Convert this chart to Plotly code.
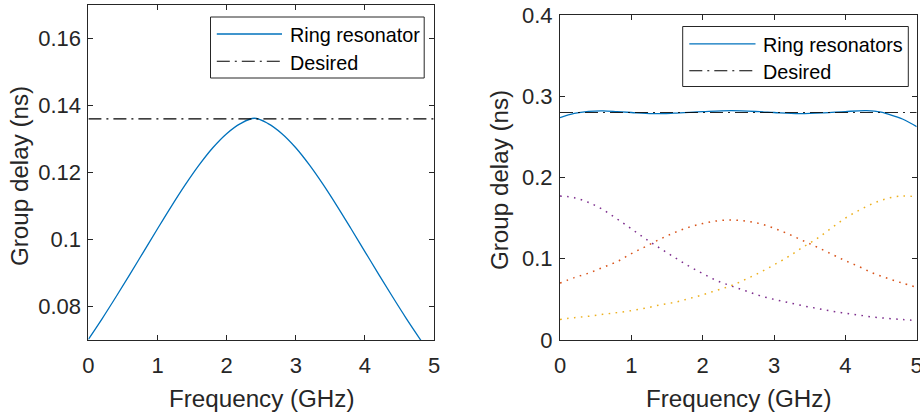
import plotly.graph_objects as go

# ---------------- data ----------------
# Left panel: single ring resonator group delay (ns) vs frequency (GHz)
freq_single = [0.0, 0.2, 0.4, 0.6, 0.8, 1.0, 1.2, 1.4, 1.6, 1.8, 2.0, 2.2, 2.4,
               2.6, 2.8, 3.0, 3.2, 3.4, 3.6, 3.8, 4.0, 4.2, 4.4, 4.6, 4.8, 5.0]
delay_single = [0.0702, 0.0764, 0.0829, 0.0896, 0.0964, 0.1032, 0.1099, 0.1163,
                0.1222, 0.1274, 0.1316, 0.1346, 0.1362, 0.1346, 0.1316, 0.1274,
                0.1222, 0.1163, 0.1099, 0.1032, 0.0964, 0.0896, 0.0829, 0.0764,
                0.0702, 0.0640]
desired_single = 0.136

# Right panel: three rings and their sum
freq_multi = [0.0, 0.2, 0.4, 0.6, 0.8, 1.0, 1.2, 1.4, 1.6, 1.8, 2.0, 2.2, 2.4,
              2.6, 2.8, 3.0, 3.2, 3.4, 3.6, 3.8, 4.0, 4.2, 4.4, 4.6, 4.8, 5.0]
ring_a = [0.1772, 0.1752, 0.1693, 0.1605, 0.1490, 0.1368, 0.1245, 0.1130,
          0.1020, 0.0913, 0.0818, 0.0730, 0.0666, 0.0606, 0.0546, 0.0500,
          0.0461, 0.0422, 0.0390, 0.0356, 0.0330, 0.0306, 0.0281, 0.0265,
          0.0252, 0.0240]
ring_b = [0.0700, 0.0768, 0.0823, 0.0893, 0.0965, 0.1063, 0.1150, 0.1240,
          0.1320, 0.1386, 0.1433, 0.1466, 0.1477, 0.1465, 0.1432, 0.1375,
          0.1305, 0.1225, 0.1145, 0.1060, 0.0976, 0.0900, 0.0818, 0.0757,
          0.0700, 0.0648]
ring_c = [0.0252, 0.0275, 0.0292, 0.0316, 0.0337, 0.0362, 0.0392, 0.0432,
          0.0462, 0.0508, 0.0556, 0.0612, 0.0669, 0.0746, 0.0830, 0.0925,
          0.1025, 0.1140, 0.1247, 0.1375, 0.1500, 0.1600, 0.1685, 0.1745,
          0.1772, 0.1762]
ring_sum_x = [0.0, 0.2, 0.4, 0.6, 0.8, 1.0, 1.3, 1.6, 2.0, 2.4, 2.8, 3.0, 3.35,
              3.7, 4.0, 4.3, 4.5, 4.6, 4.8, 5.0]
ring_sum = [0.2736, 0.2790, 0.2815, 0.2821, 0.2812, 0.2800, 0.2786, 0.2792,
            0.2810, 0.2822, 0.2810, 0.2800, 0.2786, 0.2795, 0.2812, 0.2822,
            0.2805, 0.2780, 0.2720, 0.2626]
desired_multi = 0.28

x_ticks = [0, 1, 2, 3, 4, 5]
x_ticktext = ["0", "1", "2", "3", "4", "5"]
y1_ticks = [0.08, 0.10, 0.12, 0.14, 0.16]
y1_ticktext = ["0.08", "0.1", "0.12", "0.14", "0.16"]
y2_ticks = [0.0, 0.1, 0.2, 0.3, 0.4]
y2_ticktext = ["0", "0.1", "0.2", "0.3", "0.4"]

# ---------------- style ----------------
W, H = 920, 415
FONT = "Liberation Sans, Arial, Helvetica, sans-serif"
AX = "#262626"
BLUE = "#0072BD"
ORANGE = "#D95319"
YELLOW = "#EDB120"
PURPLE = "#7E2F8E"
DASHDOT = "13px,5px,2px,5px"
DOTTED = "1.6px,5.4px"


def px(x):
    return x / W


def py(y):
    return 1 - y / H


fig = go.Figure()

# left panel
fig.add_trace(go.Scatter(x=freq_single, y=delay_single, mode="lines",
                         line=dict(color=BLUE, width=1.3, shape="spline"),
                         name="Ring resonator", xaxis="x", yaxis="y",
                         showlegend=False))
fig.add_trace(go.Scatter(x=[0, 5], y=[desired_single, desired_single], mode="lines",
                         line=dict(color="black", width=1.1, dash=DASHDOT),
                         name="Desired", xaxis="x", yaxis="y", showlegend=False))

# right panel
for vals, col in ((ring_a, PURPLE), (ring_b, ORANGE), (ring_c, YELLOW)):
    fig.add_trace(go.Scatter(x=freq_multi, y=vals, mode="lines",
                             line=dict(color=col, width=1.5, dash=DOTTED, shape="spline"),
                             xaxis="x2", yaxis="y2", showlegend=False))
fig.add_trace(go.Scatter(x=ring_sum_x, y=ring_sum, mode="lines",
                         line=dict(color=BLUE, width=1.3, shape="spline"),
                         name="Ring resonators", xaxis="x2", yaxis="y2",
                         showlegend=False))
fig.add_trace(go.Scatter(x=[0, 5], y=[desired_multi, desired_multi], mode="lines",
                         line=dict(color="black", width=1.1, dash=DASHDOT),
                         name="Desired", xaxis="x2", yaxis="y2", showlegend=False,
                         opacity=0.85))

axis_common = dict(showline=True, linecolor=AX, linewidth=1, mirror="allticks",
                   ticks="inside", ticklen=5, tickwidth=1, tickcolor=AX,
                   showgrid=False, zeroline=False, automargin=False,
                   ticklabeloverflow="allow",
                   tickfont=dict(family=FONT, size=22, color=AX))

fig.update_layout(
    template="none",
    width=W, height=H,
    margin=dict(l=0, r=0, t=0, b=0, pad=0),
    paper_bgcolor="white", plot_bgcolor="white",
    showlegend=False,
    xaxis=dict(domain=[px(88.4), px(434)], range=[0, 5], tickvals=x_ticks,
               ticktext=x_ticktext, anchor="y", ticklabelstandoff=6, **axis_common),
    yaxis=dict(domain=[py(340), py(5)], range=[0.07, 0.17], tickvals=y1_ticks,
               ticktext=y1_ticktext, anchor="x", ticklabelstandoff=2, **axis_common),
    xaxis2=dict(domain=[px(560), px(916.7)], range=[0, 5], tickvals=x_ticks,
                ticktext=x_ticktext, anchor="y2", ticklabelstandoff=6, **axis_common),
    yaxis2=dict(domain=[py(340), py(15)], range=[0, 0.4], tickvals=y2_ticks,
                ticktext=y2_ticktext, anchor="x2", ticklabelstandoff=2, **axis_common),
)

annotations = []
shapes = []

# axis titles
for (cx, cy, txt, ang) in ((261, 398, "Frequency (GHz)", 0),
                           (738, 398, "Frequency (GHz)", 0),
                           (19, 176, "Group delay (ns)", -90),
                           (499, 180, "Group delay (ns)", -90)):
    annotations.append(dict(x=px(cx), y=py(cy), xref="paper", yref="paper",
                            text=txt, showarrow=False, textangle=ang,
                            xanchor="center", yanchor="middle",
                            font=dict(family=FONT, size=24.2, color=AX)))


def legend(box, line_x, text_x, rows):
    x0, y0, x1, y1 = box
    shapes.append(dict(type="rect", xref="paper", yref="paper",
                       x0=px(x0), x1=px(x1), y0=py(y0), y1=py(y1),
                       line=dict(color=AX, width=1), fillcolor="white", layer="above"))
    for (ry, label, color, dash) in rows:
        shapes.append(dict(type="line", xref="paper", yref="paper",
                           x0=px(line_x[0]), x1=px(line_x[1]), y0=py(ry), y1=py(ry),
                           line=dict(color=color, width=1.3 if dash == "solid" else 1.1,
                                     dash=dash), layer="above"))
        annotations.append(dict(x=px(text_x), y=py(ry + 1.5), xref="paper", yref="paper",
                                text=label, showarrow=False, xanchor="left",
                                yanchor="middle",
                                font=dict(family=FONT, size=19.8, color="black")))


legend((210.5, 17, 424.2, 78), (216.8, 282), 287.5,
       [(34, "Ring resonator", BLUE, "solid"), (61.3, "Desired", "black", DASHDOT)])
legend((682.7, 26.5, 908.3, 86.5), (689.3, 755.5), 760.5,
       [(43.8, "Ring resonators", BLUE, "solid"), (70.8, "Desired", "black", DASHDOT)])

fig.update_layout(annotations=annotations, shapes=shapes)

fig.write_html("out.html")
